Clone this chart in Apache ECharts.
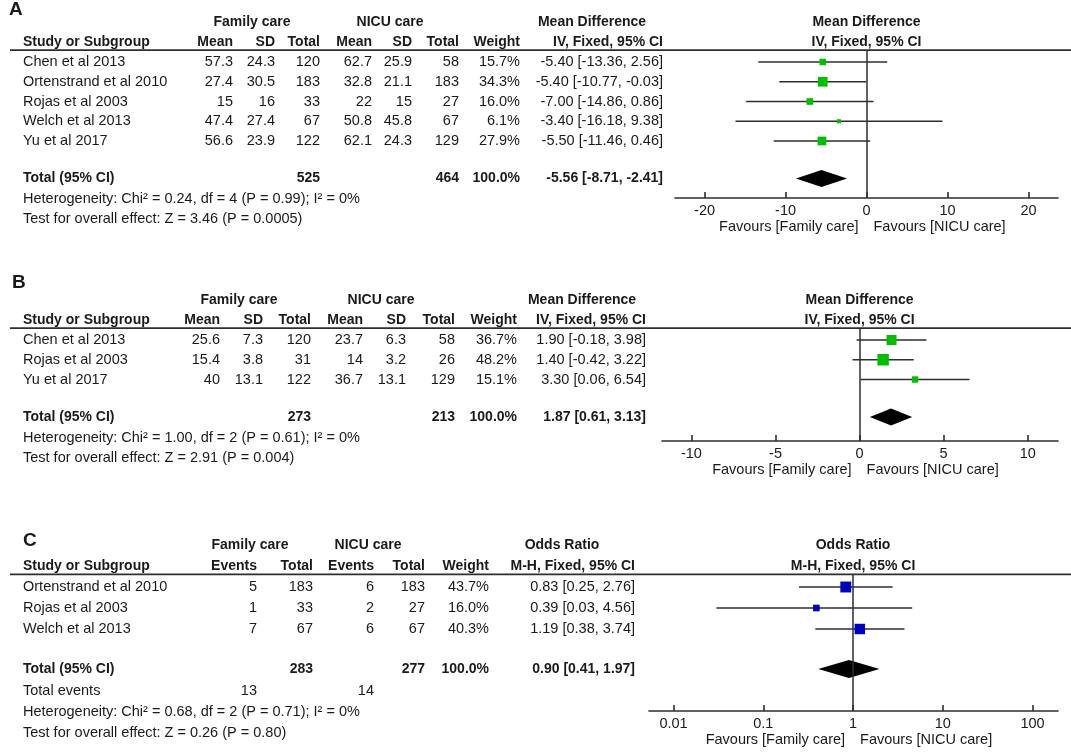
<!DOCTYPE html>
<html>
<head>
<meta charset="utf-8">
<title>Family care vs NICU care - forest plots</title>
<script src="https://cdn.jsdelivr.net/npm/echarts@6/dist/echarts.min.js"></script>
<style>
html, body { margin: 0; padding: 0; background: #ffffff; }
#chart { width: 1071px; height: 752px; }
</style>
</head>
<body>
<div id="chart"></div>
<script>
// ---------- A : mean difference ----------
const studiesA = ['Chen et al 2013', 'Ortenstrand et al 2010', 'Rojas et al 2003', 'Welch et al 2013', 'Yu et al 2017'];
const famMeanA = [57.3, 27.4, 15, 47.4, 56.6];
const famSdA = [24.3, 30.5, 16, 27.4, 23.9];
const famTotalA = [120, 183, 33, 67, 122];
const nicuMeanA = [62.7, 32.8, 22, 50.8, 62.1];
const nicuSdA = [25.9, 21.1, 15, 45.8, 24.3];
const nicuTotalA = [58, 183, 27, 67, 129];
const weightA = [15.7, 34.3, 16.0, 6.1, 27.9];
const estA = [-5.40, -5.40, -7.00, -3.40, -5.50];
const loA = [-13.36, -10.77, -14.86, -16.18, -11.46];
const hiA = [2.56, -0.03, 0.86, 9.38, 0.46];
const totalA = [525, 464, -5.56, -8.71, -2.41]; // famN, nicuN, est, lo, hi
const notesA = ['Heterogeneity: Chi² = 0.24, df = 4 (P = 0.99); I² = 0%', 'Test for overall effect: Z = 3.46 (P = 0.0005)'];
const ticksA = [-20, -10, 0, 10, 20];

// ---------- B : mean difference ----------
const studiesB = ['Chen et al 2013', 'Rojas et al 2003', 'Yu et al 2017'];
const famMeanB = [25.6, 15.4, 40];
const famSdB = [7.3, 3.8, 13.1];
const famTotalB = [120, 31, 122];
const nicuMeanB = [23.7, 14, 36.7];
const nicuSdB = [6.3, 3.2, 13.1];
const nicuTotalB = [58, 26, 129];
const weightB = [36.7, 48.2, 15.1];
const estB = [1.90, 1.40, 3.30];
const loB = [-0.18, -0.42, 0.06];
const hiB = [3.98, 3.22, 6.54];
const totalB = [273, 213, 1.87, 0.61, 3.13];
const notesB = ['Heterogeneity: Chi² = 1.00, df = 2 (P = 0.61); I² = 0%', 'Test for overall effect: Z = 2.91 (P = 0.004)'];
const ticksB = [-10, -5, 0, 5, 10];

// ---------- C : odds ratio ----------
const studiesC = ['Ortenstrand et al 2010', 'Rojas et al 2003', 'Welch et al 2013'];
const famEventsC = [5, 1, 7];
const famTotalC = [183, 33, 67];
const nicuEventsC = [6, 2, 6];
const nicuTotalC = [183, 27, 67];
const weightC = [43.7, 16.0, 40.3];
const estC = [0.83, 0.39, 1.19];
const loC = [0.25, 0.03, 0.38];
const hiC = [2.76, 4.56, 3.74];
const totalC = [283, 277, 0.90, 0.41, 1.97];
const totalEventsC = [13, 14];
const notesC = ['Heterogeneity: Chi² = 0.68, df = 2 (P = 0.71); I² = 0%', 'Test for overall effect: Z = 0.26 (P = 0.80)'];
const ticksC = [0.01, 0.1, 1, 10, 100];

const favoursLabels = ['Favours [Family care]', 'Favours [NICU care]'];

// ---------- styles ----------
const TEXT = '#1a1a1a';
const LINE = '#2e2e2e';
const FONT = '"Liberation Sans", Arial, Helvetica, sans-serif';

function ci(e, l, h) {
	return e.toFixed(2) + ' [' + l.toFixed(2) + ', ' + h.toFixed(2) + ']';
}
function pct(w) {
	return w.toFixed(1) + '%';
}

// ---------- panels (content) ----------
const panelA = {
	letter: 'A',
	groups: ['Family care', 'NICU care', 'Mean Difference'],
	columns: ['Mean', 'SD', 'Total', 'Mean', 'SD', 'Total', 'Weight', 'IV, Fixed, 95% CI'],
	plotTitle: ['Mean Difference', 'IV, Fixed, 95% CI'],
	rows: studiesA.map((s, i) => [s, famMeanA[i], famSdA[i], famTotalA[i], nicuMeanA[i], nicuSdA[i], nicuTotalA[i], pct(weightA[i]), ci(estA[i], loA[i], hiA[i])]),
	total: ['Total (95% CI)', '', '', totalA[0], '', '', totalA[1], '100.0%', ci(totalA[2], totalA[3], totalA[4])],
	extraRows: [],
	notes: notesA,
	est: estA, lo: loA, hi: hiA, weight: weightA, pooled: totalA.slice(2),
	ticks: ticksA, color: '#00bf00'
};
const panelB = {
	letter: 'B',
	groups: ['Family care', 'NICU care', 'Mean Difference'],
	columns: ['Mean', 'SD', 'Total', 'Mean', 'SD', 'Total', 'Weight', 'IV, Fixed, 95% CI'],
	plotTitle: ['Mean Difference', 'IV, Fixed, 95% CI'],
	rows: studiesB.map((s, i) => [s, famMeanB[i], famSdB[i], famTotalB[i], nicuMeanB[i], nicuSdB[i], nicuTotalB[i], pct(weightB[i]), ci(estB[i], loB[i], hiB[i])]),
	total: ['Total (95% CI)', '', '', totalB[0], '', '', totalB[1], '100.0%', ci(totalB[2], totalB[3], totalB[4])],
	extraRows: [],
	notes: notesB,
	est: estB, lo: loB, hi: hiB, weight: weightB, pooled: totalB.slice(2),
	ticks: ticksB, color: '#00bf00'
};
const panelC = {
	letter: 'C',
	groups: ['Family care', 'NICU care', 'Odds Ratio'],
	columns: ['Events', 'Total', 'Events', 'Total', 'Weight', 'M-H, Fixed, 95% CI'],
	plotTitle: ['Odds Ratio', 'M-H, Fixed, 95% CI'],
	rows: studiesC.map((s, i) => [s, famEventsC[i], famTotalC[i], nicuEventsC[i], nicuTotalC[i], pct(weightC[i]), ci(estC[i], loC[i], hiC[i])]),
	total: ['Total (95% CI)', '', totalC[0], '', totalC[1], '100.0%', ci(totalC[2], totalC[3], totalC[4])],
	extraRows: [['Total events', totalEventsC[0], '', totalEventsC[1], '', '', '']],
	notes: notesC,
	est: estC, lo: loC, hi: hiC, weight: weightC, pooled: totalC.slice(2),
	ticks: ticksC, color: '#0000c0'
};

// ---------- panels (layout, px) ----------
const layoutA = {
	y0: 62, rowH: 19.75, axisY: 198, letterX: 9, letterY: 10, studyX: 23,
	colX: [233, 275, 320, 372, 412, 459, 520, 663], groupX: [252, 390, 592],
	plotLeft: 675, plotRight: 1058, xMin: -23.65, xMax: 23.65, log: false, nullValue: 0, diamondH: 8.5
};
const layoutB = {
	y0: 340, rowH: 19.75, axisY: 441, letterX: 12, letterY: 283, studyX: 23,
	colX: [220, 263, 311, 363, 406, 455, 517, 646], groupX: [239, 381, 582],
	plotLeft: 662, plotRight: 1058, xMin: -11.75, xMax: 11.8, log: false, nullValue: 0, diamondH: 8.5
};
const layoutC = {
	y0: 587, rowH: 21, axisY: 711, letterX: 23, letterY: 541, studyX: 23,
	colX: [257, 313, 374, 425, 489, 635], groupX: [250, 368, 562],
	plotLeft: 649, plotRight: 1058, xMin: 0.00533, xMax: 192, log: true, nullValue: 1, diamondH: 9
};

const chart = echarts.init(document.getElementById('chart'));

const grids = [], xAxes = [], yAxes = [], series = [];

function textEl(pt, c) {
	return {
		type: 'text', x: pt[0] + (c.dx || 0), y: pt[1] + (c.dy || 0),
		style: {
			text: c.text, fill: TEXT, fontFamily: FONT,
			fontSize: c.size || (c.bold ? 14 : 14.5),
			fontWeight: c.bold ? 'bold' : 'normal',
			align: c.align, verticalAlign: 'middle'
		}
	};
}

[[panelA, layoutA], [panelB, layoutB], [panelC, layoutC]].forEach(function (pair, k) {
	const p = pair[0], L = pair[1];
	const rMin = -0.6;
	const rMax = (L.axisY - L.y0) / L.rowH;
	const top = L.y0 + rMin * L.rowH;
	const height = (rMax - rMin) * L.rowH;
	const ti = 2 * k, pi = 2 * k + 1;

	grids.push({ left: 0, width: 1071, top: top, height: height, containLabel: false, outerBoundsMode: 'none' });
	grids.push({ left: L.plotLeft, width: L.plotRight - L.plotLeft, top: top, height: height, containLabel: false, outerBoundsMode: 'none' });

	xAxes.push({ gridIndex: ti, type: 'value', min: 0, max: 1071, show: false });
	xAxes.push({
		gridIndex: pi, type: L.log ? 'log' : 'value', logBase: 10,
		min: L.xMin, max: L.xMax, position: 'bottom',
		axisLine: { show: true, onZero: false, lineStyle: { color: LINE, width: 1.6 } },
		axisTick: { show: true, inside: true, length: 6, customValues: p.ticks, lineStyle: { color: LINE, width: 1.6 } },
		axisLabel: {
			show: true, customValues: p.ticks, margin: 5, color: TEXT,
			fontSize: 14.5, fontFamily: FONT, formatter: v => String(v)
		},
		splitLine: { show: false },
		minorTick: { show: false }
	});
	yAxes.push({ gridIndex: ti, type: 'value', inverse: true, min: rMin, max: rMax, show: false });
	yAxes.push({ gridIndex: pi, type: 'value', inverse: true, min: rMin, max: rMax, show: false });

	// table text cells
	const cells = [];
	const add = function (x, r, text, align, bold, size) {
		if (text === '' || text == null) return;
		cells.push({ x: x, r: r, text: String(text), align: align, bold: bold, size: size });
	};
	add(L.letterX, (L.letterY - L.y0) / L.rowH, p.letter, 'left', true, 19);
	p.groups.forEach((g, i) => add(L.groupX[i], -2, g, 'center', true));
	add(L.studyX, -1, 'Study or Subgroup', 'left', true);
	p.columns.forEach((c, i) => add(L.colX[i], -1, c, 'right', true));
	const addRow = function (row, r, bold) {
		add(L.studyX, r, row[0], 'left', bold);
		row.slice(1).forEach((v, i) => add(L.colX[i], r, v, 'right', bold));
	};
	p.rows.forEach((row, i) => addRow(row, i, false));
	const n = p.rows.length;
	const rTotal = n + 0.9;
	addRow(p.total, rTotal, true);
	let r = n + 1.95;
	p.extraRows.forEach(row => { addRow(row, r, false); r += 1; });
	p.notes.forEach(t => { add(L.studyX, r, t, 'left', false); r += 1; });

	series.push({
		type: 'custom', xAxisIndex: ti, yAxisIndex: ti, silent: true, clip: false,
		data: cells.map(c => [c.x, c.r]),
		renderItem: function (params, api) {
			const pt = api.coord([api.value(0), api.value(1)]);
			return textEl(pt, cells[params.dataIndex]);
		}
	});

	// rule under the column headers
	series.push({
		type: 'custom', xAxisIndex: ti, yAxisIndex: ti, silent: true, clip: false,
		data: [[10, 1071, rMin]], encode: { x: [0, 1], y: 2 },
		renderItem: function (params, api) {
			const a = api.coord([api.value(0), api.value(2)]);
			const b = api.coord([api.value(1), api.value(2)]);
			return { type: 'line', shape: { x1: a[0], y1: a[1], x2: b[0], y2: b[1] }, style: { stroke: LINE, lineWidth: 1.7 } };
		}
	});

	// confidence intervals
	series.push({
		type: 'custom', xAxisIndex: pi, yAxisIndex: pi, silent: true, clip: false,
		data: p.lo.map((lo, i) => [lo, p.hi[i], i]), encode: { x: [0, 1], y: 2 },
		renderItem: function (params, api) {
			const a = api.coord([api.value(0), api.value(2)]);
			const b = api.coord([api.value(1), api.value(2)]);
			return { type: 'line', shape: { x1: a[0], y1: a[1], x2: b[0], y2: b[1] }, style: { stroke: LINE, lineWidth: 1.5 } };
		}
	});

	// study estimates (box size from weight) + line of no effect
	series.push({
		type: 'scatter', xAxisIndex: pi, yAxisIndex: pi, silent: true, symbol: 'rect', z: 3,
		data: p.est.map((e, i) => [e, i]),
		symbolSize: (v, params) => 1.65 * Math.sqrt(p.weight[params.dataIndex]),
		itemStyle: { color: p.color, opacity: 1 },
		markLine: {
			silent: true, symbol: ['none', 'none'], animation: false,
			label: { show: false },
			lineStyle: { color: LINE, width: 1.5, type: 'solid' },
			data: [{ xAxis: L.nullValue }]
		}
	});

	// pooled diamond
	series.push({
		type: 'custom', xAxisIndex: pi, yAxisIndex: pi, silent: true, clip: false, z: 4,
		data: [[p.pooled[0], p.pooled[1], p.pooled[2], rTotal]], encode: { x: [0, 1, 2], y: 3 },
		renderItem: function (params, api) {
			const c = api.coord([api.value(0), api.value(3)]);
			const l = api.coord([api.value(1), api.value(3)]);
			const h = api.coord([api.value(2), api.value(3)]);
			const d = L.diamondH;
			return {
				type: 'polygon',
				shape: { points: [[l[0], c[1]], [c[0], c[1] - d], [h[0], c[1]], [c[0], c[1] + d]] },
				style: { fill: '#000000' }
			};
		}
	});

	// plot headers and favours labels, anchored at the null value
	const plotCells = [
		{ v: L.nullValue, r: -2, text: p.plotTitle[0], align: 'center', bold: true },
		{ v: L.nullValue, r: -1, text: p.plotTitle[1], align: 'center', bold: true },
		{ v: L.nullValue, r: rMax, text: favoursLabels[0], align: 'right', dx: -8, dy: 29 },
		{ v: L.nullValue, r: rMax, text: favoursLabels[1], align: 'left', dx: 7, dy: 29 }
	];
	series.push({
		type: 'custom', xAxisIndex: pi, yAxisIndex: pi, silent: true, clip: false,
		data: plotCells.map(c => [c.v, c.r]),
		renderItem: function (params, api) {
			const pt = api.coord([api.value(0), api.value(1)]);
			return textEl(pt, plotCells[params.dataIndex]);
		}
	});
});

const option = {
	animation: false,
	backgroundColor: '#ffffff',
	grid: grids,
	xAxis: xAxes,
	yAxis: yAxes,
	series: series
};
chart.setOption(option);
</script>
</body>
</html>
